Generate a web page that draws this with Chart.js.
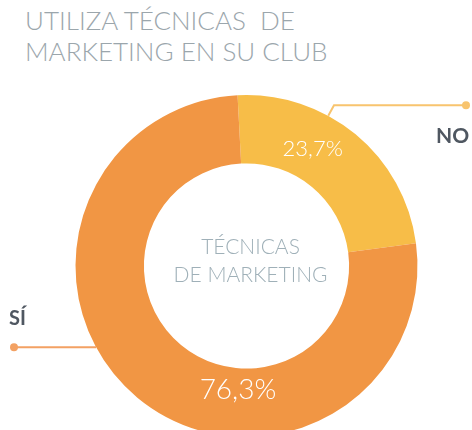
<!DOCTYPE html>
<html>
<head>
<meta charset="utf-8">
<script src="https://cdn.jsdelivr.net/npm/chart.js@4.4.1/dist/chart.umd.min.js"></script>
<style>
  html, body { margin: 0; padding: 0; background: #fff; overflow: hidden; width: 472px; height: 430px; }
  #titulo {
    position: absolute; left: 25px; top: 5px;
    font-family: Lato, sans-serif; font-weight: 300; font-size: 26px; line-height: 31px;
    color: #9ba6ac; white-space: pre;
  }
  canvas { position: absolute; left: 0; top: 0; }
</style>
</head>
<body>
<div id="titulo">UTILIZA TÉCNICAS  DE
MARKETING EN SU CLUB</div>
<canvas id="grafico" width="472" height="450"></canvas>
<script>
const categorias = ["NO", "SÍ"];
const valores = [23.7, 76.3];
const etiquetas = ["23,7%", "76,3%"];
const colores = ["#F7BD48", "#F19644"];
const coloresLinea = ["#F8C46E", "#F3A163"];
const textoCentro = ["TÉCNICAS", "DE MARKETING"];

// punto sobre el anillo: fraccion del arco y fraccion del grosor
function puntoArco(arco, fAng, fRad) {
  const ang = arco.startAngle + (arco.endAngle - arco.startAngle) * fAng;
  const r = arco.innerRadius + (arco.outerRadius - arco.innerRadius) * fRad;
  return { x: arco.x + Math.cos(ang) * r, y: arco.y + Math.sin(ang) * r, ang };
}

const etiquetasPlugin = {
  id: "etiquetas",
  afterDatasetsDraw(chart) {
    const ctx = chart.ctx;
    const arcos = chart.getDatasetMeta(0).data;
    const cx = arcos[0].x, cy = arcos[0].y;
    ctx.save();

    // porcentajes
    const posTexto = [[0.38, 0.47, 22], [0.37, 0.31, 28]];
    ctx.fillStyle = "#ffffff";
    ctx.textAlign = "center";
    ctx.textBaseline = "middle";
    arcos.forEach((arco, i) => {
      const p = puntoArco(arco, posTexto[i][0], posTexto[i][1]);
      ctx.font = "300 " + posTexto[i][2] + "px Lato";
      ctx.fillText(etiquetas[i], p.x, p.y);
    });

    // texto central
    ctx.fillStyle = "#9fb0b8";
    ctx.font = "300 21px Lato";
    ctx.textBaseline = "alphabetic";
    ctx.fillText(textoCentro[0], cx + 4, cy - 12);
    ctx.fillText(textoCentro[1], cx + 4, cy + 16);

    // lineas guia
    ctx.lineWidth = 2;
    // NO
    let p = puntoArco(arcos[0], 0.37, 1);
    let q = { x: p.x + Math.cos(p.ang) * 12, y: p.y + Math.sin(p.ang) * 12 };
    ctx.strokeStyle = coloresLinea[0];
    ctx.fillStyle = coloresLinea[0];
    ctx.beginPath();
    ctx.moveTo(p.x, p.y);
    ctx.lineTo(q.x, q.y);
    ctx.lineTo(466, q.y);
    ctx.stroke();
    ctx.beginPath();
    ctx.arc(466, q.y, 4, 0, Math.PI * 2);
    ctx.fill();
    // SÍ
    p = puntoArco(arcos[1], 0.58, 1);
    ctx.strokeStyle = coloresLinea[1];
    ctx.fillStyle = coloresLinea[1];
    ctx.beginPath();
    ctx.moveTo(p.x, p.y);
    ctx.lineTo(14, p.y);
    ctx.stroke();
    ctx.beginPath();
    ctx.arc(14, p.y, 4, 0, Math.PI * 2);
    ctx.fill();

    // nombres
    ctx.fillStyle = "#4f5761";
    ctx.font = "bold 21px Lato";
    ctx.textAlign = "left";
    ctx.fillText(categorias[0], 436, 143);
    ctx.font = "bold 20px Lato";
    ctx.fillText(categorias[1], 9, 325);
    ctx.restore();
  }
};

new Chart(document.getElementById("grafico"), {
  type: "doughnut",
  data: {
    labels: categorias,
    datasets: [{
      data: valores,
      backgroundColor: colores,
      borderWidth: 0,
      hoverOffset: 0
    }]
  },
  options: {
    responsive: false,
    animation: false,
    devicePixelRatio: 1,
    events: [],
    rotation: -3,
    cutout: "60%",
    layout: { padding: { top: 95, left: 75, right: 54, bottom: 13 } },
    plugins: {
      legend: { display: false },
      tooltip: { enabled: false }
    }
  },
  plugins: [etiquetasPlugin]
});
</script>
</body>
</html>
